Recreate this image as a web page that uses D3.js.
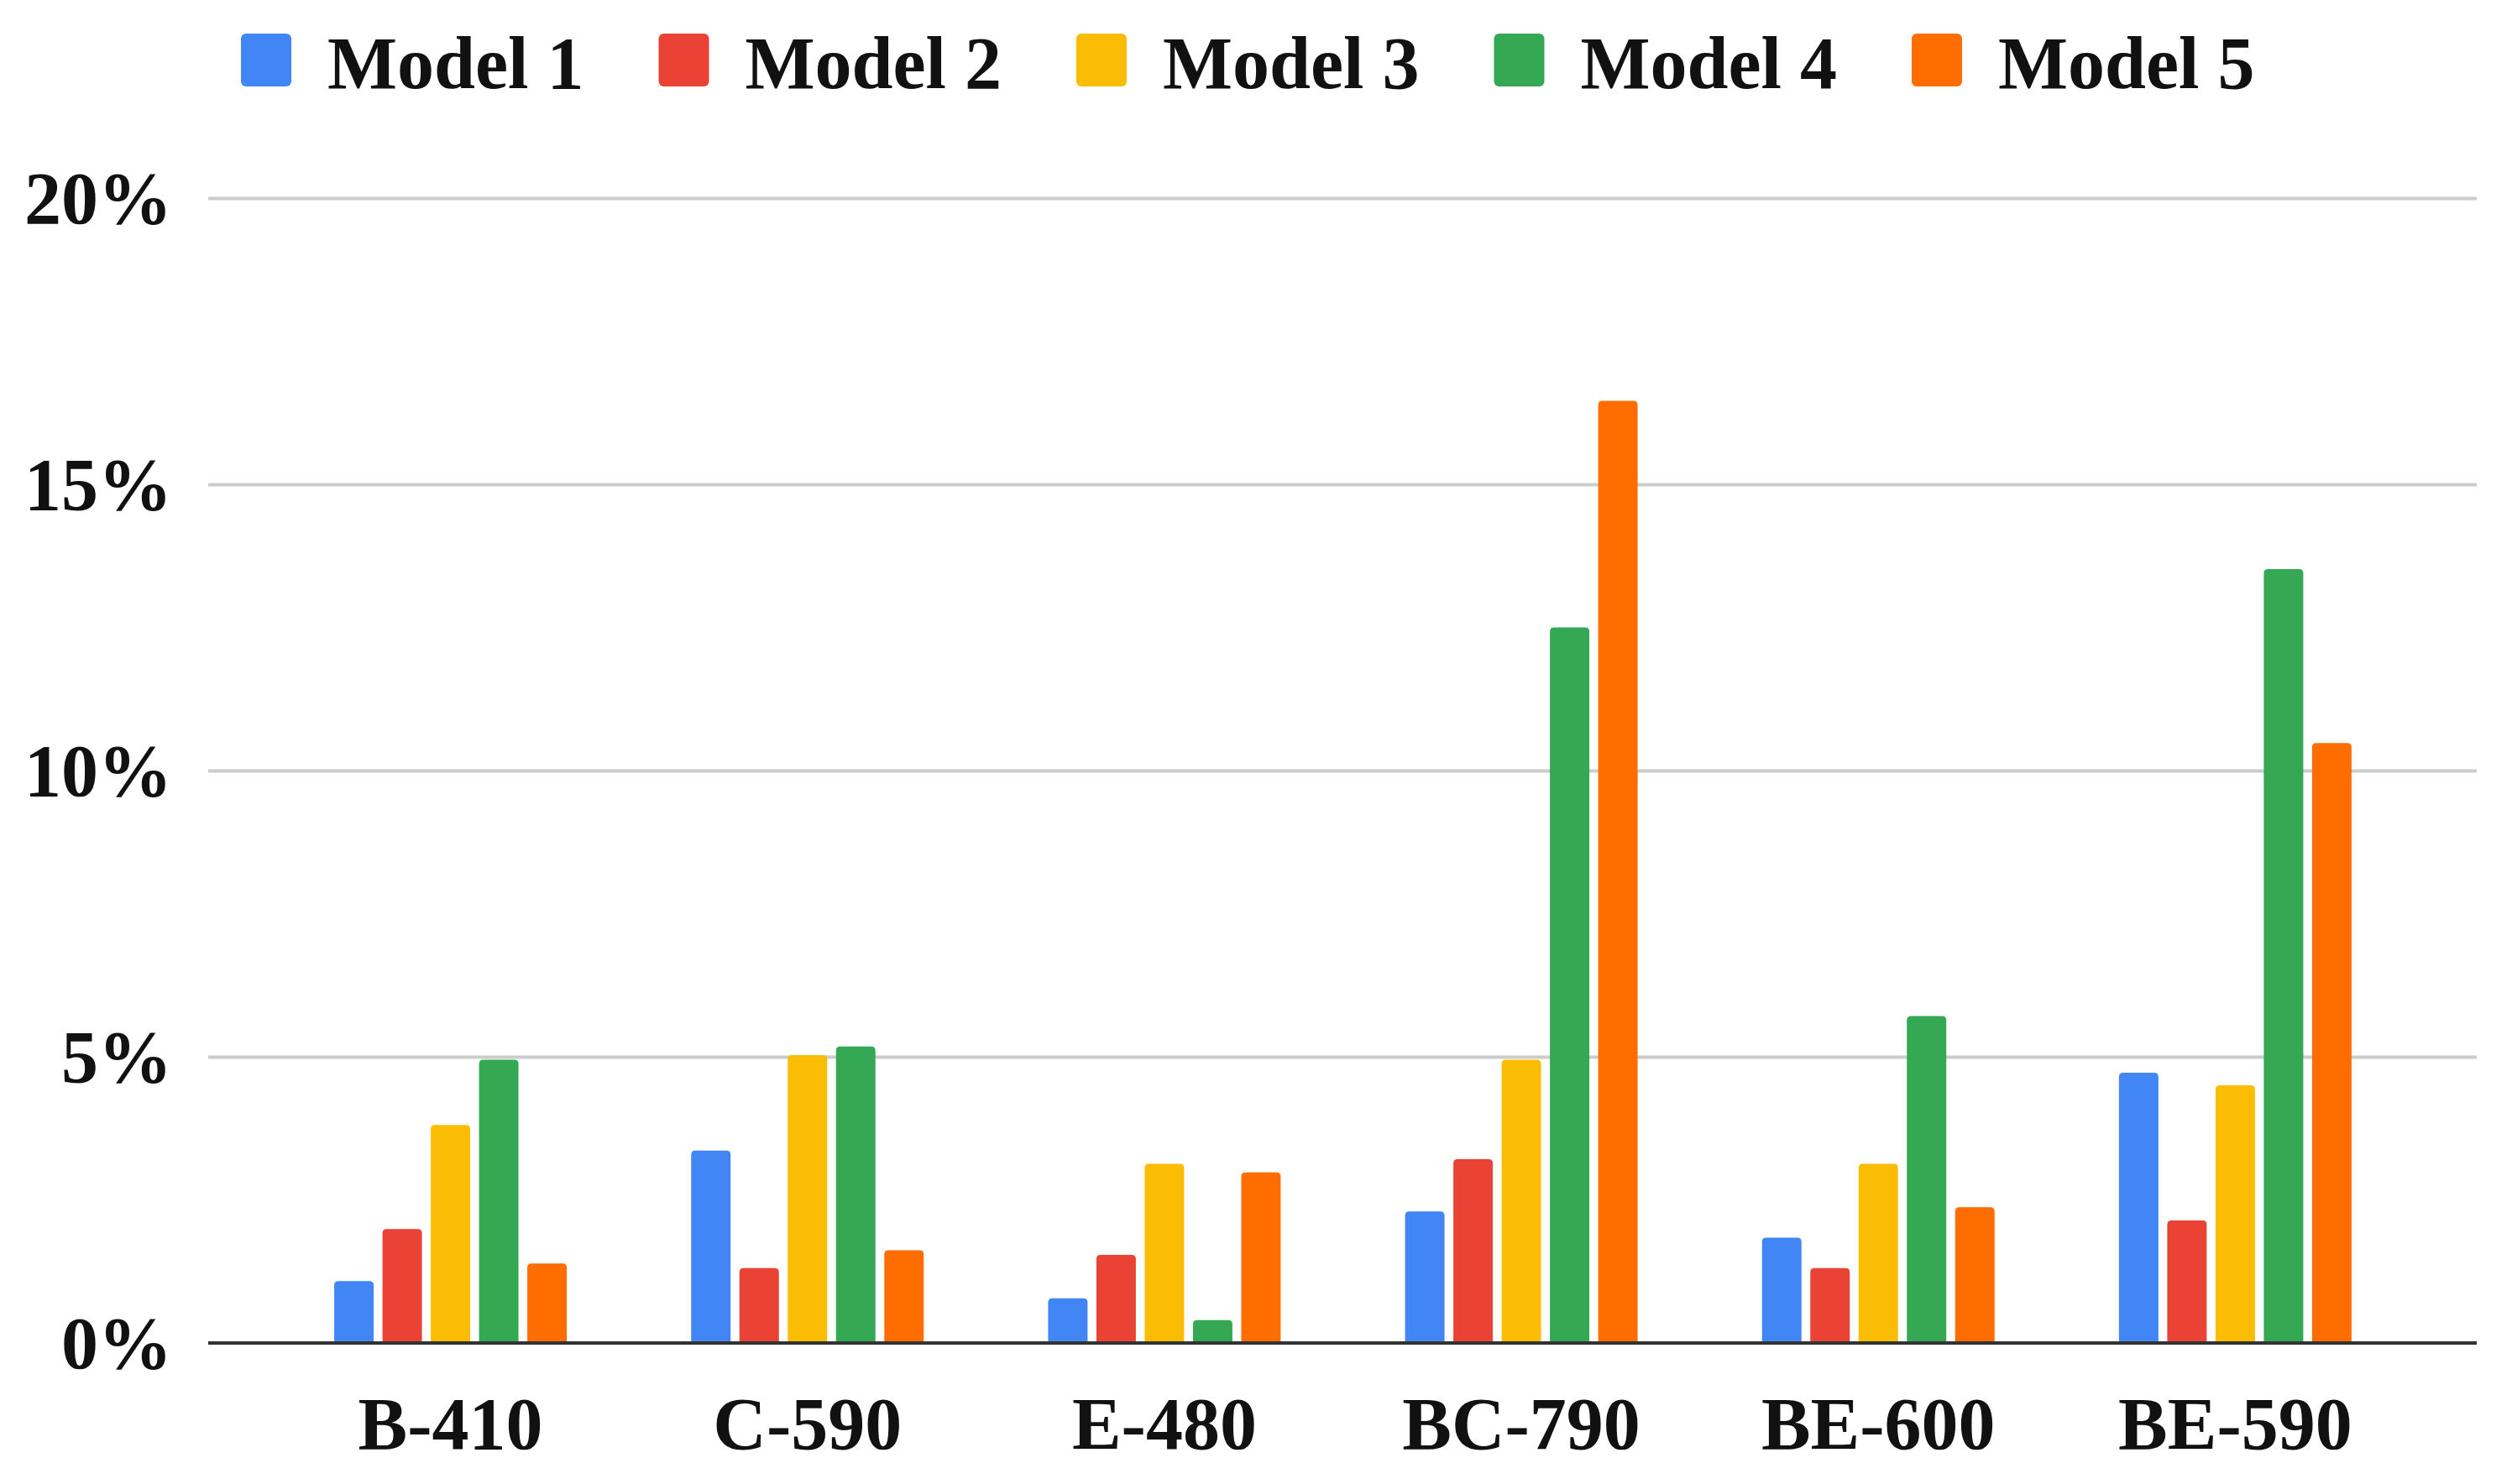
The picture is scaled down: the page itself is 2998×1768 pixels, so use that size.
<!DOCTYPE html>
<html>
<head>
<meta charset="utf-8">
<script src="https://cdn.jsdelivr.net/npm/d3@7"></script>
<style>
  body { margin: 0; background: #fff; }
  text { font-family: "Liberation Serif", "Times New Roman", serif; font-weight: bold; fill: #111; }
</style>
</head>
<body>
<script>
var width = 2998,
    height = 1768;

var categories = ["B-410", "C-590", "E-480", "BC-790", "BE-600", "BE-590"];
var models = ["Model 1", "Model 2", "Model 3", "Model 4", "Model 5"];
var colors = ["#4285F4", "#EA4335", "#FBBC04", "#34A853", "#FF6D01"];
var yTicks = [0, 5, 10, 15, 20];

// percent values per model, in category order
var model1 = [1.08, 3.36, 0.78, 2.30, 1.84, 4.72];
var model2 = [1.99, 1.31, 1.54, 3.21, 1.31, 2.14];
var model3 = [3.81, 5.03, 3.13, 4.95, 3.13, 4.50];
var model4 = [4.95, 5.18, 0.40, 12.50, 5.71, 13.52];
var model5 = [1.39, 1.62, 2.98, 16.46, 2.37, 10.48];
var series = [model1, model2, model3, model4, model5];

var plotLeft = 248, plotRight = 2950, baseY = 1600, topY = 236;

var svg = d3.select("body").append("svg")
    .attr("width", width)
    .attr("height", height);

var x0 = d3.scaleBand()
    .domain(categories)
    .range([324, 2875]);

var groupW = 277;
var x1 = d3.scaleBand()
    .domain(models)
    .range([0, groupW])
    .paddingInner(0.183);

var y = d3.scaleLinear()
    .domain([0, 20])
    .range([baseY, topY]);

// gridlines + y labels
var yAxis = svg.append("g")
    .attr("transform", "translate(" + plotLeft + ",0)")
    .call(d3.axisLeft(y)
        .tickValues(yTicks)
        .tickSize(-(plotRight - plotLeft))
        .tickPadding(43)
        .tickFormat(function(d) { return d + "%"; }));
yAxis.select(".domain").remove();
yAxis.selectAll(".tick line")
    .attr("stroke", "#cccccc")
    .attr("stroke-width", 4)
    .attr("opacity", function(d) { return d === 0 ? 0 : 1; });
yAxis.selectAll(".tick text")
    .attr("font-size", 88)
    .attr("dy", "0.34em")
    .style("font-family", "'Liberation Serif', serif")
    .style("font-weight", "bold")
    .attr("fill", "#111");

// bars with slightly rounded tops
function barPath(x, yTop, w, yBot) {
    var r = Math.min(5, (yBot - yTop) / 2);
    return "M" + x + "," + yBot +
        "V" + (yTop + r) +
        "Q" + x + "," + yTop + " " + (x + r) + "," + yTop +
        "H" + (x + w - r) +
        "Q" + (x + w) + "," + yTop + " " + (x + w) + "," + (yTop + r) +
        "V" + yBot + "Z";
}

var offset = (x0.bandwidth() - groupW) / 2;

var groups = svg.selectAll("g.group")
    .data(categories)
    .enter().append("g")
    .attr("class", "group")
    .attr("transform", function(d) { return "translate(" + (x0(d) + offset) + ",0)"; });

groups.selectAll("path")
    .data(function(d, i) {
        return models.map(function(m, j) { return { model: m, value: series[j][i], color: colors[j] }; });
    })
    .enter().append("path")
    .attr("fill", function(d) { return d.color; })
    .attr("d", function(d) { return barPath(x1(d.model), y(d.value), x1.bandwidth(), y(0)); });

// baseline
svg.append("line")
    .attr("x1", plotLeft).attr("x2", plotRight)
    .attr("y1", y(0)).attr("y2", y(0))
    .attr("stroke", "#333")
    .attr("stroke-width", 4);

// x labels
var xAxis = svg.append("g")
    .attr("transform", "translate(0," + baseY + ")")
    .call(d3.axisBottom(x0).tickSize(0).tickPadding(64));
xAxis.select(".domain").remove();
xAxis.selectAll(".tick text")
    .attr("font-size", 88)
    .style("font-family", "'Liberation Serif', serif")
    .style("font-weight", "bold")
    .attr("fill", "#111");

// legend
var legend = svg.selectAll("g.legend")
    .data(models)
    .enter().append("g")
    .attr("class", "legend")
    .attr("transform", function(d, i) { return "translate(" + (287 + i * 497.5) + ",0)"; });

legend.append("rect")
    .attr("x", 0).attr("y", 40)
    .attr("width", 60).attr("height", 63)
    .attr("rx", 6)
    .attr("fill", function(d, i) { return colors[i]; });

legend.append("text")
    .attr("x", 103).attr("y", 105)
    .attr("font-size", 88)
    .text(function(d) { return d; });
</script>
</body>
</html>
